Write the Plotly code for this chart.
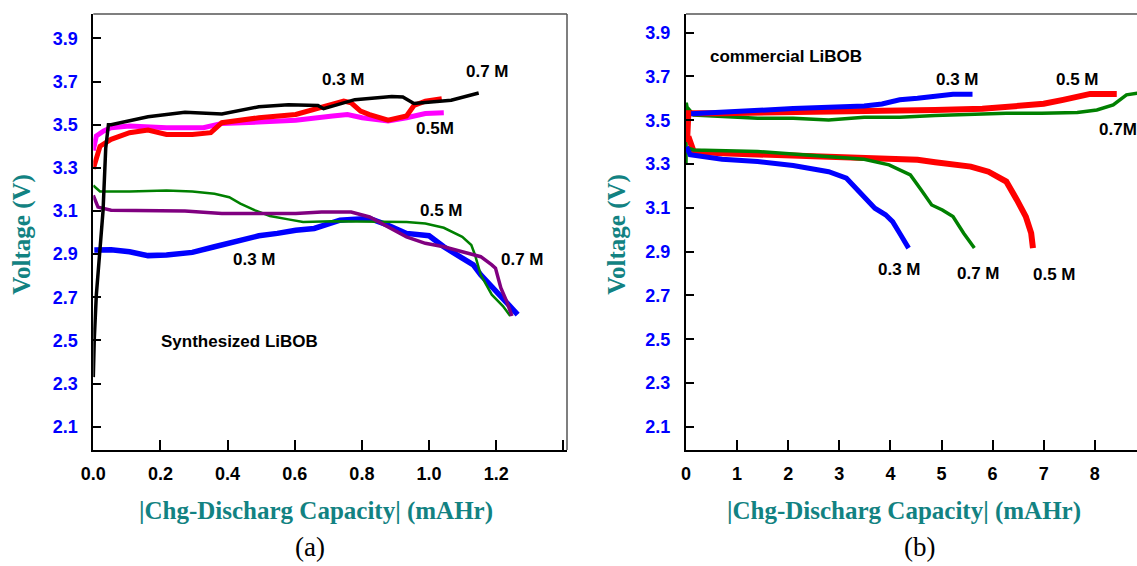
import plotly.graph_objects as go

# ---------------- Panel (a): Synthesized LiBOB ----------------
black_x = [0.000, 0.003, 0.009, 0.014, 0.029, 0.037, 0.045, 0.053, 0.163, 0.273, 0.383, 0.493, 0.581, 0.669, 0.686, 0.779, 0.889, 0.922, 0.955, 1.066, 1.148]
black_y = [2.33, 2.51, 2.71, 2.80, 3.10, 3.39, 3.50, 3.50, 3.537, 3.558, 3.55, 3.583, 3.592, 3.589, 3.574, 3.616, 3.631, 3.628, 3.598, 3.613, 3.647]

red_x = [0.000, 0.020, 0.053, 0.108, 0.163, 0.218, 0.295, 0.350, 0.383, 0.493, 0.603, 0.658, 0.746, 0.768, 0.796, 0.823, 0.878, 0.933, 0.955, 0.989, 1.038]
red_y = [3.295, 3.40, 3.432, 3.463, 3.475, 3.455, 3.455, 3.463, 3.509, 3.532, 3.547, 3.57, 3.609, 3.601, 3.563, 3.547, 3.521, 3.54, 3.589, 3.609, 3.62]

magenta_x = [0.000, 0.009, 0.031, 0.053, 0.108, 0.218, 0.328, 0.383, 0.493, 0.603, 0.713, 0.757, 0.801, 0.878, 0.933, 0.989, 1.044]
magenta_y = [3.38, 3.448, 3.471, 3.486, 3.494, 3.486, 3.486, 3.506, 3.512, 3.521, 3.540, 3.547, 3.532, 3.517, 3.532, 3.552, 3.555]

green_x = [0.000, 0.020, 0.108, 0.218, 0.295, 0.361, 0.405, 0.438, 0.482, 0.526, 0.581, 0.625, 0.713, 0.823, 0.933, 0.989, 1.044, 1.099, 1.126, 1.137, 1.154, 1.187, 1.220, 1.242]
green_y = [3.218, 3.19, 3.19, 3.195, 3.19, 3.18, 3.164, 3.134, 3.103, 3.077, 3.061, 3.049, 3.052, 3.052, 3.049, 3.042, 3.022, 2.980, 2.942, 2.896, 2.804, 2.712, 2.659, 2.613]

purple_x = [0.000, 0.014, 0.053, 0.163, 0.273, 0.383, 0.493, 0.603, 0.680, 0.768, 0.823, 0.878, 0.933, 0.989, 1.044, 1.099, 1.154, 1.187, 1.198, 1.214, 1.231, 1.247]
purple_y = [3.172, 3.118, 3.103, 3.103, 3.100, 3.088, 3.088, 3.088, 3.095, 3.095, 3.072, 3.026, 2.980, 2.950, 2.934, 2.911, 2.888, 2.850, 2.835, 2.743, 2.682, 2.613]

blue_x = [0.003, 0.053, 0.108, 0.163, 0.218, 0.295, 0.361, 0.438, 0.493, 0.548, 0.603, 0.658, 0.691, 0.735, 0.768, 0.823, 0.878, 0.933, 1.000, 1.044, 1.099, 1.132, 1.154, 1.198, 1.231, 1.264]
blue_y = [2.919, 2.92, 2.911, 2.893, 2.896, 2.908, 2.934, 2.965, 2.985, 2.996, 3.011, 3.019, 3.034, 3.057, 3.061, 3.065, 3.034, 2.996, 2.985, 2.934, 2.881, 2.850, 2.804, 2.728, 2.674, 2.620]

# ---------------- Panel (b): commercial LiBOB ----------------
rb_chg_x = [0.10, 0.776, 1.401, 2.097, 2.792, 3.487, 3.835, 4.182, 4.530, 4.877, 5.225, 5.607]
rb_chg_y = [3.53, 3.539, 3.547, 3.553, 3.559, 3.565, 3.574, 3.593, 3.600, 3.611, 3.619, 3.619]

rr_chg_x = [0.02, 0.046, 0.706, 2.097, 3.487, 4.877, 5.80, 6.41, 7.00, 7.38, 7.70, 7.91, 8.43]
rr_chg_y = [3.40, 3.532, 3.532, 3.535, 3.539, 3.547, 3.552, 3.562, 3.575, 3.593, 3.610, 3.620, 3.620]

rg_chg_x = [0.0, 0.005, 0.02, 0.150, 0.706, 1.401, 2.097, 2.792, 3.487, 4.182, 4.877, 5.573, 6.268, 6.963, 7.658, 8.04, 8.36, 8.62, 8.83]
rg_chg_y = [3.30, 3.58, 3.56, 3.524, 3.516, 3.509, 3.509, 3.501, 3.514, 3.514, 3.521, 3.527, 3.532, 3.532, 3.535, 3.547, 3.570, 3.616, 3.623]

rb_dis_x = [0.011, 0.081, 0.706, 1.401, 2.097, 2.792, 3.140, 3.348, 3.557, 3.696, 3.905, 4.044, 4.182, 4.356]
rb_dis_y = [3.379, 3.342, 3.322, 3.311, 3.293, 3.265, 3.235, 3.182, 3.128, 3.098, 3.068, 3.037, 2.984, 2.916]

rr_dis_x = [0.046, 0.150, 0.706, 2.097, 3.487, 4.530, 4.877, 5.573, 5.920, 6.268, 6.476, 6.650, 6.755, 6.790]
rr_dis_y = [3.426, 3.357, 3.349, 3.337, 3.326, 3.319, 3.308, 3.288, 3.265, 3.220, 3.136, 3.060, 2.984, 2.916]

rg_dis_x = [0.046, 0.150, 1.401, 2.792, 3.487, 3.974, 4.391, 4.600, 4.808, 5.017, 5.225, 5.434, 5.643]
rg_dis_y = [3.372, 3.364, 3.357, 3.334, 3.322, 3.296, 3.250, 3.182, 3.113, 3.090, 3.060, 2.984, 2.916]

# ticks
y_ticks = [2.1, 2.3, 2.5, 2.7, 2.9, 3.1, 3.3, 3.5, 3.7, 3.9]
y_ticklabels = ["2.1", "2.3", "2.5", "2.7", "2.9", "3.1", "3.3", "3.5", "3.7", "3.9"]
xa_ticks = [0.0, 0.2, 0.4, 0.6, 0.8, 1.0, 1.2, 1.4]
xa_ticklabels = ["0.0", "0.2", "0.4", "0.6", "0.8", "1.0", "1.2", ""]
xb_ticks = [0, 1, 2, 3, 4, 5, 6, 7, 8]
xb_ticklabels = ["0", "1", "2", "3", "4", "5", "6", "7", "8"]

W, H = 1137, 566
def px(v): return v / W
def py(v): return (H - v) / H

fig = go.Figure()

def add(x, y, color, width, xa="x", ya="y"):
    fig.add_trace(go.Scatter(x=x, y=y, mode="lines", xaxis=xa, yaxis=ya,
                             line=dict(color=color, width=width), showlegend=False,
                             hoverinfo="skip"))

add(blue_x, blue_y, "#0000FF", 5.5)
add(green_x, green_y, "#008000", 2.5)
add(purple_x, purple_y, "#800080", 3.5)
add(magenta_x, magenta_y, "#FF00FF", 5)
add(red_x, red_y, "#FF0000", 5)
add(black_x, black_y, "#000000", 3.5)

add(rg_chg_x, rg_chg_y, "#008000", 3.5, "x2", "y2")
add(rr_chg_x, rr_chg_y, "#FF0000", 6, "x2", "y2")
add(rb_chg_x, rb_chg_y, "#0000FF", 5, "x2", "y2")
add(rr_dis_x, rr_dis_y, "#FF0000", 6, "x2", "y2")
add(rg_dis_x, rg_dis_y, "#008000", 3.5, "x2", "y2")
add(rb_dis_x, rb_dis_y, "#0000FF", 5, "x2", "y2")

tick_font_y = dict(family="Liberation Sans", size=18, color="#0000FF", weight="bold")
tick_font_x = dict(family="Liberation Sans", size=18, color="#000000", weight="bold")

ydom = [py(450), py(14)]
common_y = dict(showline=True, linecolor="#000000", linewidth=2, ticks="inside", ticklen=8,
                tickwidth=1.5, tickcolor="#000000", showgrid=False, zeroline=False,
                tickvals=y_ticks, ticktext=y_ticklabels, tickfont=tick_font_y,
                ticklabelstandoff=10, domain=ydom, automargin=False)
common_x = dict(showline=True, linecolor="#000000", linewidth=2, ticks="inside", ticklen=10,
                tickwidth=1.5, tickcolor="#000000", showgrid=False, zeroline=False,
                tickfont=tick_font_x, ticklabelstandoff=6, automargin=False)

fig.update_layout(
    width=W, height=H, margin=dict(l=0, r=0, t=0, b=0, autoexpand=False),
    paper_bgcolor="white", plot_bgcolor="white",
    xaxis=dict(common_x, domain=[px(93.3), px(567)], range=[0, 1.411],
               tickvals=xa_ticks, ticktext=xa_ticklabels, anchor="y"),
    yaxis=dict(common_y, range=[1.992, 4.013], anchor="x"),
    xaxis2=dict(common_x, domain=[px(686), 1.0], range=[0, 8.826],
                tickvals=xb_ticks, ticktext=xb_ticklabels, anchor="y2"),
    yaxis2=dict(common_y, range=[1.994, 3.985], anchor="x2"),
)

# gray top / right borders
border = dict(color="#555555", width=1.5)
fig.add_shape(type="line", xref="x domain", yref="y domain", x0=0, x1=1, y0=1, y1=1, line=border)
fig.add_shape(type="line", xref="x domain", yref="y domain", x0=1, x1=1, y0=0, y1=1, line=border)
fig.add_shape(type="line", xref="x2 domain", yref="y2 domain", x0=0, x1=1, y0=1, y1=1, line=border)

lab_font = dict(family="Liberation Sans", size=17, color="#000000", weight="bold")
def lab(text, x, y, xr="x", yr="y", xanchor="center"):
    fig.add_annotation(text=text, x=x, y=y, xref=xr, yref=yr, showarrow=False,
                       font=lab_font, xanchor=xanchor, yanchor="middle")

lab("0.3 M", 0.746, 3.711)
lab("0.7 M", 1.174, 3.746)
lab("0.5M", 1.018, 3.482)
lab("0.5 M", 1.036, 3.101)
lab("0.3 M", 0.480, 2.873)
lab("0.7 M", 1.278, 2.877)
lab("Synthesized LiBOB", 0.435, 2.494)

lab("commercial LiBOB", 1.958, 3.790, "x2", "y2")
lab("0.3 M", 5.315, 3.687, "x2", "y2")
lab("0.5 M", 7.658, 3.687, "x2", "y2")
lab("0.7M", 8.04, 3.456, "x2", "y2", xanchor="left")
lab("0.3 M", 4.182, 2.820, "x2", "y2")
lab("0.7 M", 5.725, 2.801, "x2", "y2")
lab("0.5 M", 7.206, 2.794, "x2", "y2")

title_font = dict(family="Liberation Serif", size=25, color="#128282", weight="bold")
for xc in (21.7, 616.7):
    fig.add_annotation(text="Voltage (V)", x=px(xc), y=py(234), xref="paper", yref="paper",
                       showarrow=False, textangle=-90, font=title_font,
                       xanchor="center", yanchor="middle")
for xc in (316, 904.5):
    fig.add_annotation(text="|Chg-Discharg Capacity| (mAHr)", x=px(xc), y=py(511),
                       xref="paper", yref="paper", showarrow=False, font=title_font,
                       xanchor="center", yanchor="middle")
for t, xc in (("(a)", 309.7), ("(b)", 919)):
    fig.add_annotation(text=t, x=px(xc), y=py(547), xref="paper", yref="paper",
                       showarrow=False, font=dict(family="Liberation Serif", size=27, color="#000000"),
                       xanchor="center", yanchor="middle")

fig.write_html("out.html")
